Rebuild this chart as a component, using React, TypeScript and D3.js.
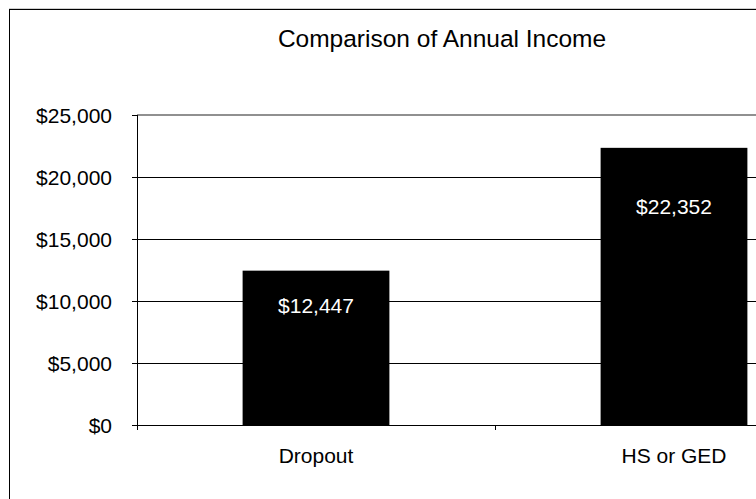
import React from "react";
import * as d3 from "d3";

const categories = ["Dropout", "HS or GED"];
const incomes = [12447, 22352];
const incomeLabels = ["$12,447", "$22,352"];
const yTicks = [0, 5000, 10000, 15000, 20000, 25000];
const title = "Comparison of Annual Income";

// layout
const W = 756;
const H = 499;
const plotLeft = 137;
const plotRight = 853;
const plotTop = 115;
const plotBottom = 425;
const labelDrops = [35, 59];
const FONT = "'Liberation Sans', Arial, sans-serif";
const LABEL_SIZE = 21;

export default function App() {
  const x = d3
    .scaleBand<string>()
    .domain(categories)
    .range([plotLeft, plotRight])
    .paddingInner(0.59)
    .paddingOuter(0.295);
  const band = (plotRight - plotLeft) / categories.length;
  const y = d3.scaleLinear().domain([0, 25000]).range([plotBottom, plotTop]);
  const fmt = (v: number) => "$" + d3.format(",")(v);

  return (
    <svg
      width={W}
      height={H}
      style={{ position: "absolute", left: 0, top: 0, background: "#fff" }}
      fontFamily={FONT}
    >
      <rect x={0} y={0} width={W} height={H} fill="#fff" />
      {/* outer chart border */}
      <line x1={9} x2={W} y1={8.5} y2={8.5} stroke="#d0d0d0" />
      <rect x={9.5} y={9.5} width={W + 40} height={H + 40} fill="none" stroke="#000" strokeWidth={1} />
      <text x={442} y={47} textAnchor="middle" fontSize={24.5} fill="#000">
        {title}
      </text>
      {/* gridlines */}
      {yTicks.slice(1, -1).map((t) => (
        <line key={t} x1={plotLeft} x2={plotRight} y1={Math.round(y(t)) + 0.5} y2={Math.round(y(t)) + 0.5} stroke="#000" strokeWidth={1} />
      ))}
      {/* plot area top border */}
      <line x1={plotLeft} x2={plotRight} y1={y(25000)} y2={y(25000)} stroke="#909090" strokeWidth={2} />
      {/* bars */}
      {categories.map((c, i) => (
        <rect key={c} x={x(c)} y={y(incomes[i])} width={x.bandwidth()} height={plotBottom - y(incomes[i])} fill="#000" />
      ))}
      {/* data labels */}
      {categories.map((c, i) => (
        <text
          key={c}
          x={(x(c) as number) + x.bandwidth() / 2}
          y={y(incomes[i]) + labelDrops[i]}
          textAnchor="middle"
          dominantBaseline="central"
          fontSize={LABEL_SIZE}
          fill="#fff"
        >
          {incomeLabels[i]}
        </text>
      ))}
      {/* y axis */}
      <line x1={plotLeft + 0.5} x2={plotLeft + 0.5} y1={plotTop} y2={plotBottom + 5} stroke="#000" />
      {yTicks.map((t) => (
        <g key={t}>
          <line x1={plotLeft - 5} x2={plotLeft} y1={Math.round(y(t)) + 0.5} y2={Math.round(y(t)) + 0.5} stroke="#000" />
          <text x={112} y={y(t)} textAnchor="end" dominantBaseline="central" fontSize={LABEL_SIZE} fill="#000">
            {fmt(t)}
          </text>
        </g>
      ))}
      {/* x axis */}
      <line x1={plotLeft} x2={plotRight} y1={plotBottom + 0.5} y2={plotBottom + 0.5} stroke="#000" />
      {categories.map((c, i) => (
        <line key={"t" + c} x1={Math.round(plotLeft + band * (i + 1)) + 0.5} x2={Math.round(plotLeft + band * (i + 1)) + 0.5} y1={plotBottom} y2={plotBottom + 5} stroke="#000" />
      ))}
      {categories.map((c) => (
        <text key={"l" + c} x={(x(c) as number) + x.bandwidth() / 2} y={463} textAnchor="middle" fontSize={LABEL_SIZE} fill="#000">
          {c}
        </text>
      ))}
    </svg>
  );
}
